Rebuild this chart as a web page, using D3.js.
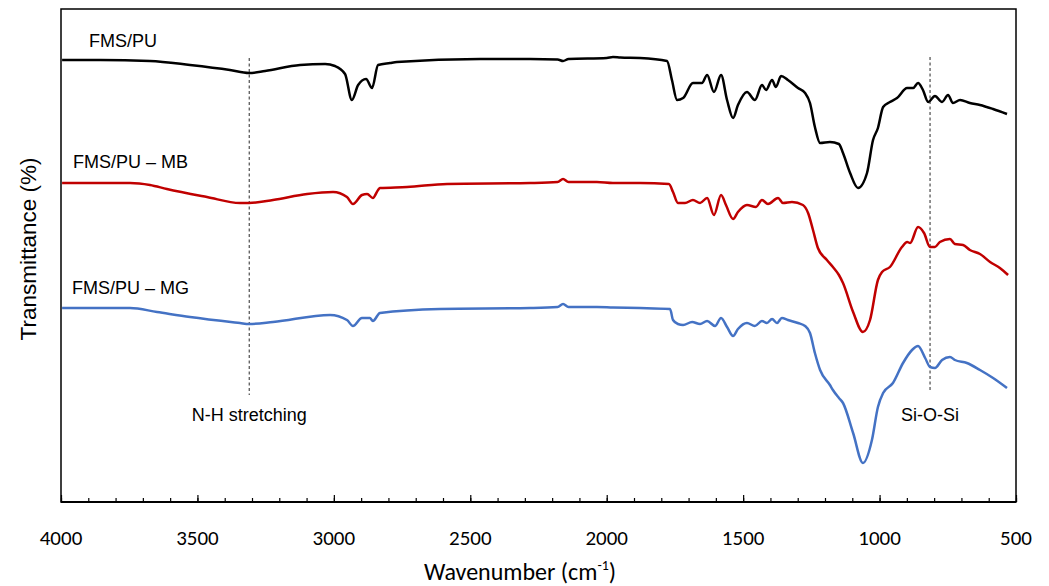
<!DOCTYPE html>
<html>
<head>
<meta charset="utf-8">
<script src="https://cdn.jsdelivr.net/npm/d3@7"></script>
<style>
  html, body { margin: 0; padding: 0; background: #fff; }
  svg { display: block; }
  .tick-label { font-family: Carlito, Calibri, "Liberation Sans Narrow", "DejaVu Sans Condensed", sans-serif; font-size: 21px; fill: #000; }
  .series-label, .note { font-family: "Liberation Sans", Arial, sans-serif; font-size: 18px; fill: #000; }
</style>
</head>
<body>
<svg id="chart" width="1049" height="586"></svg>
<script>
// FTIR spectra: [wavenumber cm-1, transmittance (arb. %)]
const fmsPu = [
  [3996, 88.4], [3857, 88.4], [3674, 88.2], [3527, 87.4], [3381, 86.4], [3311, 85.8],
  [3252, 86.2], [3124, 87.4], [3032, 87.6], [2996, 87.2], [2959, 85.6], [2934, 80.4],
  [2911, 83.4], [2882, 84.6], [2860, 82.8], [2838, 87.4], [2794, 87.8], [2769, 88.0],
  [2464, 88.6], [2281, 88.6], [2180, 88.5], [2160, 88.2], [2140, 88.6], [2000, 88.8],
  [1977, 89.0], [1950, 88.9], [1878, 88.8], [1779, 88.2], [1761, 84.4],
  [1742, 80.4], [1720, 80.8], [1684, 83.8], [1651, 83.8], [1632, 85.4], [1607, 82.0],
  [1581, 85.4], [1559, 80.4], [1537, 76.8], [1519, 79.4], [1486, 82.0], [1457, 80.4],
  [1431, 83.4], [1416, 82.4], [1394, 84.4], [1380, 83.0], [1361, 85.2], [1336, 84.4],
  [1299, 82.8], [1273, 81.8], [1255, 79.8], [1237, 75.0], [1218, 71.8], [1182, 72.0],
  [1149, 71.6], [1134, 69.8], [1108, 65.8], [1079, 62.8], [1046, 65.8], [1024, 72.4],
  [1006, 74.8], [987, 79.0], [962, 80.0], [936, 80.8], [899, 82.8], [877, 82.8],
  [859, 83.8], [841, 82.4], [822, 80.0], [797, 81.2], [771, 80.0], [749, 81.4],
  [731, 79.8], [705, 80.4], [669, 79.8], [632, 79.4], [584, 78.6], [533, 77.6]
];
const fmsPuMb = [
  [3996, 63.8], [3747, 63.8], [3674, 63.4], [3612, 62.6], [3465, 61.0], [3344, 59.8],
  [3311, 59.8], [3223, 60.4], [3098, 61.6], [3003, 62.0], [2952, 61.0], [2930, 59.6],
  [2897, 61.4], [2878, 61.6], [2857, 60.8], [2838, 62.4], [2831, 62.8], [2732, 63.0],
  [2585, 63.6], [2281, 63.8], [2180, 64.0], [2160, 64.6], [2140, 64.0], [2036, 64.0],
  [1977, 63.8], [1878, 63.8],
  [1772, 63.6], [1757, 62.0], [1739, 59.8], [1713, 59.8], [1684, 60.4], [1658, 59.8],
  [1632, 60.8], [1607, 57.4], [1581, 61.4], [1563, 59.4], [1537, 56.6], [1519, 58.0],
  [1486, 59.4], [1453, 59.0], [1431, 60.4], [1409, 59.6], [1372, 60.8], [1354, 59.8],
  [1321, 60.0], [1281, 59.4], [1262, 57.8], [1244, 54.4], [1226, 50.8], [1193, 48.4],
  [1171, 47.0], [1149, 45.4], [1134, 43.8], [1097, 38.0], [1061, 34.0], [1035, 36.4],
  [1006, 44.4], [991, 46.0], [962, 47.0], [918, 51.0], [899, 52.0], [888, 51.8],
  [859, 55.0], [837, 53.8], [815, 51.0], [797, 51.0], [779, 52.0], [742, 52.6],
  [724, 51.6], [694, 51.4], [669, 50.4], [632, 49.6], [595, 48.0], [559, 46.8], [529, 45.4]
];
const fmsPuMg = [
  [3996, 38.8], [3747, 38.8], [3648, 38.0], [3527, 37.0], [3344, 35.8], [3311, 35.6],
  [3223, 36.0], [3014, 37.4], [2952, 36.4], [2930, 35.2], [2897, 36.8], [2868, 36.8],
  [2857, 36.2], [2831, 37.8], [2611, 38.6], [2281, 38.8], [2180, 39.0], [2160, 39.6],
  [2140, 39.0], [2036, 39.0], [1977, 38.9], [1878, 38.8], [1768, 38.6], [1757, 36.4],
  [1739, 35.6], [1720, 35.4],
  [1687, 36.0], [1658, 35.6], [1632, 36.2], [1603, 35.2], [1581, 36.8], [1559, 35.0],
  [1537, 33.2], [1519, 34.6], [1486, 35.8], [1457, 35.2], [1431, 36.2], [1413, 35.8],
  [1394, 36.6], [1376, 35.8], [1358, 36.8], [1336, 36.4], [1299, 35.8], [1273, 35.2],
  [1255, 33.8], [1237, 29.8], [1218, 26.4], [1182, 23.4], [1171, 22.4], [1149, 20.8],
  [1134, 19.8], [1097, 13.8], [1061, 7.8], [1028, 12.4], [1006, 19.0], [987, 21.8],
  [951, 23.8], [914, 27.8], [881, 30.4], [859, 31.2], [833, 28.8], [815, 27.0],
  [797, 26.8], [771, 28.4], [742, 29.0], [724, 28.4], [680, 27.8], [632, 26.4],
  [584, 24.8], [533, 22.8]
];

const seriesNames = ["FMS/PU", "FMS/PU \u2013 MB", "FMS/PU \u2013 MG"];
const seriesData = [fmsPu, fmsPuMb, fmsPuMg];
const seriesColors = ["#000000", "#C00000", "#4472C4"];
// label anchor per series: [wavenumber, transmittance]
const labelAnchors = [[3897, 91.0], [3956, 66.8], [3960, 41.6]];

// band assignments: dashed marker from top to bottom value, label below
const bandNames = ["N-H stretching", "Si-O-Si"];
const bandWavenumbers = [3310, 815];
const bandTops = [88.8, 89.0];
const bandBottoms = [21.4, 22.0];
const bandLabelY = [16.2, 16.2];

const xTicks = [4000, 3500, 3000, 2500, 2000, 1500, 1000, 500];

const svg = d3.select("#chart");
const M = { left: 61, right: 33, top: 9, bottom: 84 };
const W = 1049, H = 586;
const x = d3.scaleLinear().domain([4000, 500]).range([M.left, W - M.right]);
const y = d3.scaleLinear().domain([0, 98.6]).range([H - M.bottom, M.top]);

// plot area box
svg.append("rect")
  .attr("x", x(4000)).attr("y", y(98.6))
  .attr("width", x(500) - x(4000)).attr("height", y(0) - y(98.6))
  .attr("fill", "none").attr("stroke", "#000").attr("stroke-width", 1.5);

// bottom axis: inward ticks, majors every 500, minors every 100
const gx = svg.append("g").attr("transform", `translate(0,${y(0)})`);
gx.call(d3.axisBottom(x).tickValues(d3.range(4000, 499, -100)).tickSize(-4).tickFormat(""))
  .call((g) => g.select(".domain").remove());
gx.selectAll(".tick line").attr("stroke", "#000").attr("stroke-width", 1.2);
gx.append("g").call(d3.axisBottom(x).tickValues(xTicks).tickSize(-7).tickFormat(""))
  .call((g) => g.select(".domain").remove())
  .selectAll(".tick line").attr("stroke", "#000").attr("stroke-width", 1.2);
gx.append("line").attr("x1", x(4000)).attr("x2", x(500)).attr("stroke", "#000").attr("stroke-width", 2);

svg.append("g").selectAll("text").data(xTicks).join("text")
  .attr("class", "tick-label")
  .attr("x", (d) => x(d)).attr("y", y(0) + 43)
  .attr("text-anchor", "middle")
  .text((d) => d);

// axis titles (style() so the size wins over the class rule)
const xt = svg.append("text").attr("class", "tick-label")
  .attr("x", 520).attr("y", 580).attr("text-anchor", "middle")
  .style("font-size", "24px");
xt.append("tspan").text("Wavenumber (cm");
xt.append("tspan").style("font-size", "14px").attr("dy", -10).text("-1");
xt.append("tspan").attr("dy", 10).text(")");

svg.append("text").attr("class", "series-label")
  .attr("transform", `translate(36,249) rotate(-90)`)
  .attr("text-anchor", "middle").style("font-size", "22.5px")
  .text("Transmittance (%)");

// band marker lines
svg.append("g").selectAll("line").data(bandNames).join("line")
  .attr("x1", (d, i) => x(bandWavenumbers[i])).attr("x2", (d, i) => x(bandWavenumbers[i]))
  .attr("y1", (d, i) => y(bandTops[i])).attr("y2", (d, i) => y(bandBottoms[i]))
  .attr("stroke", "#595959").attr("stroke-width", 1.3).attr("stroke-dasharray", "3,2.5");
svg.append("g").selectAll("text").data(bandNames).join("text")
  .attr("class", "note")
  .attr("x", (d, i) => x(bandWavenumbers[i])).attr("y", (d, i) => y(bandLabelY[i]))
  .attr("text-anchor", "middle")
  .text((d) => d);

// spectra
const line = d3.line().x((d) => x(d[0])).y((d) => y(d[1])).curve(d3.curveMonotoneX);
svg.append("g").selectAll("path").data(seriesData).join("path")
  .attr("d", line)
  .attr("fill", "none")
  .attr("stroke", (d, i) => seriesColors[i])
  .attr("stroke-width", 2.5)
  .attr("stroke-linejoin", "round");

svg.append("g").selectAll("text").data(seriesNames).join("text")
  .attr("class", "series-label")
  .attr("x", (d, i) => x(labelAnchors[i][0])).attr("y", (d, i) => y(labelAnchors[i][1]))
  .text((d) => d);
</script>
</body>
</html>
